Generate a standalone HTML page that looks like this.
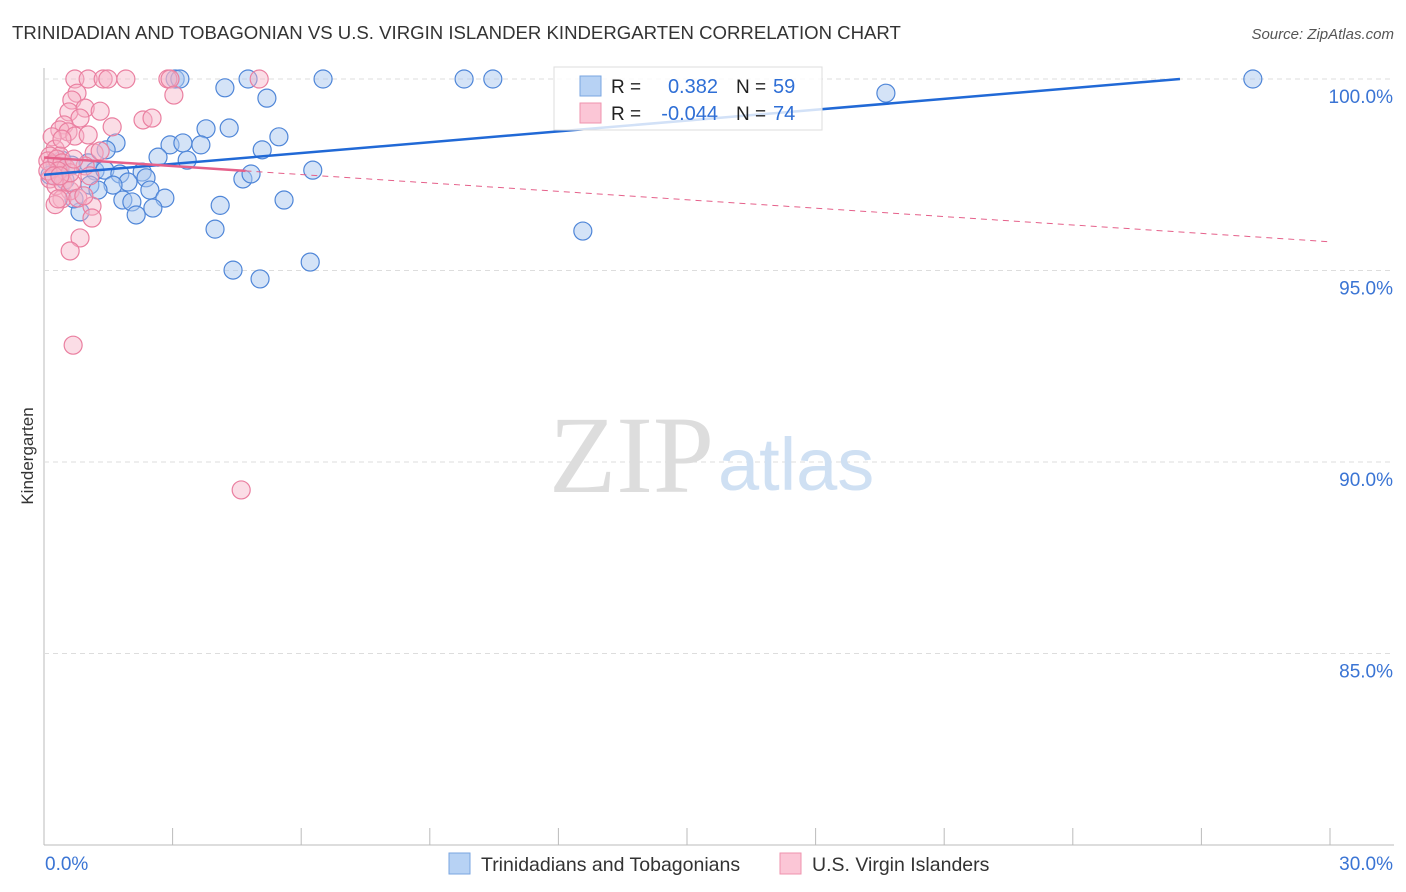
<!DOCTYPE html>
<html><head><meta charset="utf-8"><style>
body{margin:0;background:#fff;font-family:"Liberation Sans",sans-serif;}
svg{display:block}
</style></head><body>
<svg id="c" width="1406" height="892">
<text x="12" y="39" font-size="18.6" fill="#333">TRINIDADIAN AND TOBAGONIAN VS U.S. VIRGIN ISLANDER KINDERGARTEN CORRELATION CHART</text>
<text x="1394" y="39" font-size="15" fill="#555" font-style="italic" text-anchor="end">Source: ZipAtlas.com</text>
<text x="33" y="456" font-size="17" fill="#333" transform="rotate(-90 33 456)" text-anchor="middle">Kindergarten</text>
<g id="grid"></g>
<text x="714" y="492" font-size="110" fill="#ddd" font-family="Liberation Serif" text-anchor="end">ZIP</text>
<text x="718" y="490" font-size="74" fill="#cfe0f3">atlas</text>
<g id="pts"></g>
<g id="lines"></g>
<g>
<rect x="554" y="67" width="268" height="63" fill="#fff" fill-opacity="0.8" stroke="#ddd"/>
<rect x="580" y="76" width="21" height="20" fill="#b7d2f4" stroke="#7aa6e0"/>
<rect x="580" y="103" width="21" height="20" fill="#fbc6d6" stroke="#ef93ae"/>
<text x="611" y="93" font-size="19" fill="#222">R = </text><text x="718" y="93" font-size="20" fill="#2f6fd6" text-anchor="end">0.382</text>
<text x="736" y="93" font-size="19" fill="#222">N = </text><text x="773" y="93" font-size="20" fill="#2f6fd6">59</text>
<text x="611" y="120" font-size="19" fill="#222">R = </text><text x="718" y="120" font-size="20" fill="#2f6fd6" text-anchor="end">-0.044</text>
<text x="736" y="120" font-size="19" fill="#222">N = </text><text x="773" y="120" font-size="20" fill="#2f6fd6">74</text>
</g>
<g>
<rect x="449" y="853" width="21" height="21" fill="#b7d2f4" stroke="#7aa6e0"/>
<text x="481" y="871" font-size="19.5" fill="#333">Trinidadians and Tobagonians</text>
<rect x="780" y="853" width="21" height="21" fill="#fbc6d6" stroke="#ef93ae"/>
<text x="812" y="871" font-size="19.5" fill="#333">U.S. Virgin Islanders</text>
</g>
</svg>
<script>
const yTicks=[100,95,90,85];
const xTickLabels=["0.0%","30.0%"];
const blueX=[3.06,3.17,4.76,6.51,9.8,10.47,28.2,4.22,5.2,19.64,3.78,4.32,5.48,1.68,2.94,3.24,3.66,1.45,2.66,3.34,5.09,0.42,0.65,1.03,1.19,1.42,1.77,2.29,2.38,1.96,1.61,1.07,1.26,2.47,2.82,1.84,2.05,2.54,2.15,0.84,0.7,4.64,4.83,6.27,4.11,5.6,3.99,4.41,5.04,6.21,12.57,0.37,0.26,0.14,0.49];
const blueY=[100,100,100,100,100,100,100,99.77,99.5,99.63,98.7,98.72,98.49,98.33,98.28,98.33,98.28,98.15,97.96,97.88,98.15,97.88,97.75,97.81,97.6,97.62,97.52,97.57,97.42,97.31,97.23,97.23,97.1,97.1,96.89,96.84,96.79,96.63,96.45,96.53,96.87,97.39,97.52,97.62,96.7,96.84,96.08,95.01,94.78,95.22,96.03,97.62,97.75,97.49,97.36];
const pinkX=[0.72,1.03,1.38,1.49,1.91,2.89,2.94,5.02,3.03,0.77,0.65,0.58,0.96,1.31,0.84,0.47,0.37,0.56,0.72,1.03,0.19,1.59,2.31,2.52,1.17,0.26,0.37,0.14,0.09,0.19,0.3,0.42,0.51,0.33,0.14,0.28,0.44,0.61,0.42,0.26,0.33,0.65,0.96,1.07,0.79,1.12,1.12,0.84,0.61,0.68,4.6,1.31,0.42,0.09,0.61,0.23,0.37,0.93,0.7];
const pinkY=[100,100,100,100,100,100,100,100,99.58,99.63,99.45,99.14,99.24,99.16,98.98,98.8,98.67,98.62,98.51,98.54,98.49,98.75,98.93,98.98,98.07,98.17,97.99,97.99,97.86,97.78,97.91,97.81,97.68,97.6,97.39,97.21,97.29,97.08,96.87,96.72,96.87,97.29,97.73,97.47,96.89,96.68,96.37,95.85,95.51,93.05,89.27,98.12,98.43,97.6,97.55,97.47,97.47,96.95,97.91];
const blueTrend=[[0,97.5],[26.5,100]];
const pinkTrend=[[0,97.95],[4.7,97.6],[30,95.75]];
const X0=44,X1=1330,Y100=79,PX=38.3;
const sx=v=>X0+(X1-X0)*v/30, sy=v=>Y100+(100-v)*PX;
const NS="http://www.w3.org/2000/svg";
function mk(t,a,p){const e=document.createElementNS(NS,t);for(const k in a)e.setAttribute(k,a[k]);p.appendChild(e);return e;}
const g=document.getElementById('grid');
const ax=mk('line',{x1:X0,y1:68,x2:X0,y2:845,stroke:'#bbb'},g);


const bx=mk('line',{x1:X0,y1:845,x2:1394,y2:845,stroke:'#bbb'},g);


for(let i=0;i<=10;i++){const x=X0+i*(X1-X0)/10;const t=mk('line',{x1:x,y1:828,x2:x,y2:845,stroke:'#bbb'},g);

}
yTicks.forEach(v=>{const y=sy(v);const l=mk('line',{x1:X0,y1:y,x2:1394,y2:y,stroke:'#ddd','stroke-dasharray':'5,4'},g);


const t=mk('text',{x:1393,y:y+24,'font-size':19,fill:'#3a74d4','text-anchor':'end'},g);t.textContent=v.toFixed(1)+'%';

});
[[0,'start',45],[30,'end',1393]].forEach((d,i)=>{const t=mk('text',{x:d[2],y:870,'font-size':19,fill:'#3a74d4','text-anchor':d[1]},g);t.textContent=xTickLabels[i];

});
const p=document.getElementById('pts');
blueX.forEach((x,i)=>{const c=mk('circle',{cx:sx(x),cy:sy(blueY[i]),r:9,fill:'#a9c8f0','fill-opacity':0.5,stroke:'#4f86d8','stroke-width':1.2},p);

});
pinkX.forEach((x,i)=>{const c=mk('circle',{cx:sx(x),cy:sy(pinkY[i]),r:9,fill:'#f7b3c8','fill-opacity':0.45,stroke:'#ea7fa0','stroke-width':1.2},p);

});
const L=document.getElementById('lines');
const b=mk('line',{x1:sx(blueTrend[0][0]),y1:sy(blueTrend[0][1]),x2:sx(blueTrend[1][0]),y2:sy(blueTrend[1][1]),stroke:'#2169d6','stroke-width':2.5},L);


const pk=mk('line',{x1:sx(pinkTrend[0][0]),y1:sy(pinkTrend[0][1]),x2:sx(pinkTrend[1][0]),y2:sy(pinkTrend[1][1]),stroke:'#e5608a','stroke-width':2.5},L);


const pd=mk('line',{x1:sx(pinkTrend[1][0]),y1:sy(pinkTrend[1][1]),x2:sx(pinkTrend[2][0]),y2:sy(pinkTrend[2][1]),stroke:'#e5608a','stroke-width':1,'stroke-dasharray':'6,5'},L);


</script>
</body></html>
